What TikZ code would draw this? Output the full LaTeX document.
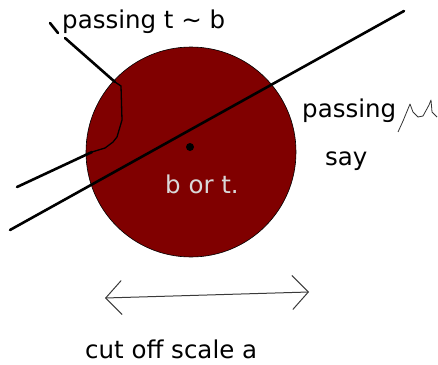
\documentclass[tikz,border=0pt]{standalone}
\usepackage{fontspec}
\setmainfont{DejaVu Sans}
\usepackage{tikz}
\usetikzlibrary{arrows.meta}
\definecolor{cball}{HTML}{800000}
\definecolor{cspan}{HTML}{3A3A3A}
\tikzset{
  lbl/.style={font=\fontsize{24.5}{28}\selectfont, anchor=base west, inner sep=0pt},
  ball/.style={circle, fill=cball, draw=black, line width=0.6pt, inner sep=0pt, minimum size=210pt},
  stroke/.style={line width=2.6pt, line cap=round, line join=round},
  fine/.style={line width=1.3pt, line join=round},
  wiggle/.style={line width=0.8pt, draw=black!80, line join=round},
  span/.style={draw=cspan, line width=1pt, {Straight Barb[length=16pt,width=34pt]}-{Straight Barb[length=16pt,width=34pt]}},
}
\begin{document}
\begin{tikzpicture}[x=1pt,y=-1pt]
\useasboundingbox (0,0) rectangle (438,364);
\node[ball] (blob) at (191,152) {};
\node[circle, fill=black, inner sep=0pt, minimum size=8pt] (ctr) at (190,147) {};
\node[lbl, text=white!85!black] (bort) at (165,193) {b or t.};
% the long track
\coordinate (trA) at (10,230);
\coordinate (trB) at (404,11);
\draw[stroke] (trA) -- (trB);
% the track that bends into the label
\coordinate (tk0) at (17,187);
\coordinate (tk1) at (92,152);
\coordinate (tk2) at (115,82);
\coordinate (tk3) at (65,38);
\draw[stroke] (tk0) -- (tk1);
\draw[fine] (tk1) -- (105,148) -- (113,142) -- (117,137) -- (122,120) -- (121,86) -- (tk2);
\draw[stroke] (tk2) -- (tk3);
\coordinate (tkA) at (50,23);
\coordinate (tkB) at (58,33);
\draw[stroke] (tkA) -- (tkB);
\node[lbl] (ptb) at (62,28) {passing t \textasciitilde{} b};
\node[lbl] (pmu) at (302,117) {passing};
\draw[wiggle] (398,132) -- (403,121) -- (410,104) -- (413,112) -- (418,117) -- (423,116)
  -- (429,105) -- (431,100) -- (432,112) -- (437,117);
\node[lbl] (say) at (325,165) {say};
% cut off
\coordinate (spL) at (105,298);
\coordinate (spR) at (309,292);
\draw[span] (spL) -- (spR);
\node[lbl] (cut) at (85,358) {cut off scale a};
\end{tikzpicture}
\end{document}
